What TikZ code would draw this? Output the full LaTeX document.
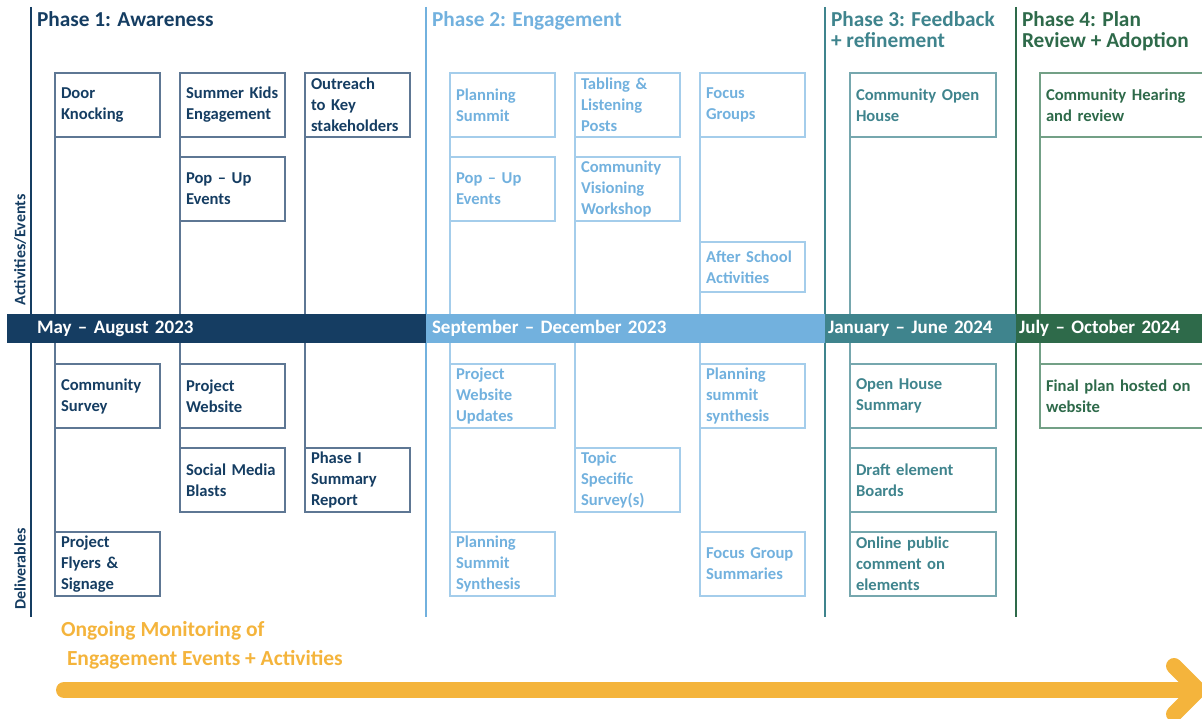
\documentclass[tikz,border=0pt]{standalone}
\usepackage{fontspec}
\setmainfont{Carlito}
\usepackage{tikz}

\definecolor{navy}{HTML}{153D62}
\definecolor{navyline}{HTML}{5E7794}
\definecolor{sky}{HTML}{72B1DE}
\definecolor{skyline}{HTML}{A4CDEB}
\definecolor{teal}{HTML}{3F848D}
\definecolor{tealline}{HTML}{76A7AE}
\definecolor{forest}{HTML}{2E6A4A}
\definecolor{forestline}{HTML}{73A086}
\definecolor{gold}{HTML}{F4B43C}

\begin{document}
\begin{tikzpicture}[x=1pt,y=-1pt]
\tikzstyle{every node}=[inner sep=0pt, outer sep=0pt, font=\bfseries]
\tikzstyle{box}=[draw, line width=1.4pt, anchor=north west, align=left, inner xsep=6pt,
  text width=93pt, minimum height=64pt, font=\bfseries\fontsize{16.6}{21}\selectfont]
\tikzstyle{wide}=[box, text width=134pt]
\tikzstyle{widest}=[box, text width=170pt]
\tikzstyle{phase}=[anchor=north west, align=left, font=\bfseries\fontsize{21.3}{21}\selectfont]
\tikzstyle{bar}=[anchor=north west, minimum height=29pt, text=white, align=left,
  font=\bfseries\fontsize{19}{20}\selectfont]
\tikzstyle{col}=[line width=1.4pt]
\useasboundingbox (0,0) rectangle (1202,719);

% phase lines
\coordinate (p1t) at (31,7);   \coordinate (p1b) at (31,617);
\coordinate (p2t) at (426,7);  \coordinate (p2b) at (426,617);
\coordinate (p3t) at (825,7);  \coordinate (p3b) at (825,617);
\coordinate (p4t) at (1016,7); \coordinate (p4b) at (1016,617);
\draw[navy, line width=2.5pt] (p1t) -- (p1b);
\draw[sky, line width=2.5pt] (p2t) -- (p2b);
\draw[teal, line width=2.5pt] (p3t) -- (p3b);
\draw[forest, line width=2.5pt] (p4t) -- (p4b);

% phase titles
\draw (37,12) node (t1) [phase, text=navy] {Phase 1: Awareness};
\draw (432,12) node (t2) [phase, text=sky] {Phase 2: Engagement};
\draw (831,12) node (t3) [phase, text=teal] {Phase 3: Feedback\\+ refinement};
\draw (1022,12) node (t4) [phase, text=forest] {Phase 4: Plan\\Review + Adoption};

% row labels
\draw (20,250) node (r1) [rotate=90, text=navy, font=\bfseries\fontsize{16}{16}\selectfont] {Activities/Events};
\draw (20,569) node (r2) [rotate=90, text=navy, font=\bfseries\fontsize{16}{16}\selectfont] {Deliverables};

% phase 1
\draw (55,73) node (a1) [box, draw=navyline, text=navy] {Door\\Knocking};
\draw (180,73) node (a2) [box, draw=navyline, text=navy] {Summer Kids\\Engagement};
\draw (180,157) node (a3) [box, draw=navyline, text=navy] {Pop -- Up\\Events};
\draw (305,73) node (a4) [box, draw=navyline, text=navy] {Outreach\\to Key\\stakeholders};
\draw (55,364) node (d1) [box, draw=navyline, text=navy] {Community\\Survey};
\draw (55,532) node (d2) [box, draw=navyline, text=navy] {Project\\Flyers \&\\Signage};
\draw (180,364) node (d3) [box, draw=navyline, text=navy] {Project\\Website};
\draw (180,448) node (d4) [box, draw=navyline, text=navy] {Social Media\\Blasts};
\draw (305,448) node (d5) [box, draw=navyline, text=navy] {Phase I\\Summary\\Report};
\draw[col, navyline] (a1.south west) -- (d1.north west);
\draw[col, navyline] (d1.south west) -- (d2.north west);
\draw[col, navyline] (a2.south west) -- (a3.north west);
\draw[col, navyline] (a3.south west) -- (d3.north west);
\draw[col, navyline] (d3.south west) -- (d4.north west);
\draw[col, navyline] (a4.south west) -- (d5.north west);

% phase 2
\draw (450,73) node (a5) [box, draw=skyline, text=sky] {Planning\\Summit};
\draw (450,157) node (a6) [box, draw=skyline, text=sky] {Pop -- Up\\Events};
\draw (575,73) node (a7) [box, draw=skyline, text=sky] {Tabling \&\\Listening\\Posts};
\draw (575,157) node (a8) [box, draw=skyline, text=sky] {Community\\Visioning\\Workshop};
\draw (700,73) node (a9) [box, draw=skyline, text=sky] {Focus\\Groups};
\draw (700,242) node (a10) [box, draw=skyline, text=sky, minimum height=50pt] {After School\\Activities};
\draw (450,364) node (d6) [box, draw=skyline, text=sky] {Project\\Website\\Updates};
\draw (450,532) node (d7) [box, draw=skyline, text=sky] {Planning\\Summit\\Synthesis};
\draw (575,448) node (d8) [box, draw=skyline, text=sky] {Topic\\Specific\\Survey(s)};
\draw (700,364) node (d9) [box, draw=skyline, text=sky] {Planning\\summit\\synthesis};
\draw (700,532) node (d10) [box, draw=skyline, text=sky] {Focus Group\\Summaries};
\draw[col, skyline] (a5.south west) -- (a6.north west);
\draw[col, skyline] (a6.south west) -- (d6.north west);
\draw[col, skyline] (d6.south west) -- (d7.north west);
\draw[col, skyline] (a7.south west) -- (a8.north west);
\draw[col, skyline] (a8.south west) -- (d8.north west);
\draw[col, skyline] (a9.south west) -- (a10.north west);
\draw[col, skyline] (a10.south west) -- (d9.north west);
\draw[col, skyline] (d9.south west) -- (d10.north west);

% phase 3
\draw (850,73) node (a11) [wide, draw=tealline, text=teal] {Community Open\\House};
\draw (850,364) node (d11) [wide, draw=tealline, text=teal] {Open House\\Summary};
\draw (850,448) node (d12) [wide, draw=tealline, text=teal] {Draft element\\Boards};
\draw (850,532) node (d13) [wide, draw=tealline, text=teal] {Online public\\comment on\\elements};
\draw[col, tealline] (a11.south west) -- (d11.north west);
\draw[col, tealline] (d11.south west) -- (d12.north west);
\draw[col, tealline] (d12.south west) -- (d13.north west);

% phase 4
\draw (1040,73) node (a12) [widest, draw=forestline, text=forest] {Community Hearing\\and review};
\draw (1040,364) node (d14) [widest, draw=forestline, text=forest] {Final plan hosted on\\website};
\draw[col, forestline] (a12.south west) -- (d14.north west);

% timeline bar
\draw (7,314) node (m1) [bar, fill=navy, minimum width=419pt, text width=407pt, inner xsep=6pt] {\hspace*{24pt}May -- August 2023};
\draw (426,314) node (m2) [bar, fill=sky, minimum width=399pt, text width=387pt, inner xsep=6pt] {September -- December 2023};
\draw (825,314) node (m3) [bar, fill=teal, minimum width=191pt, text width=185pt, inner xsep=3pt] {January -- June 2024};
\draw (1016,314) node (m4) [bar, fill=forest, minimum width=186pt, text width=180pt, inner xsep=3pt] {July -- October 2024};

% monitoring arrow
\draw (61,631) node (g1) [anchor=west, text=gold, font=\bfseries\fontsize{21.5}{22}\selectfont] {Ongoing Monitoring of};
\draw (67,660) node (g2) [anchor=west, text=gold, font=\bfseries\fontsize{21.5}{22}\selectfont] {Engagement Events + Activities};
\coordinate (gs) at (64,690);
\coordinate (ge) at (1196,690);
\draw[gold, line width=16pt, line cap=round] (gs) -- (ge);
\draw[gold, line width=16pt, line cap=round, line join=round] (1174,666) -- (1198,690) -- (1174,714);
\end{tikzpicture}
\end{document}
